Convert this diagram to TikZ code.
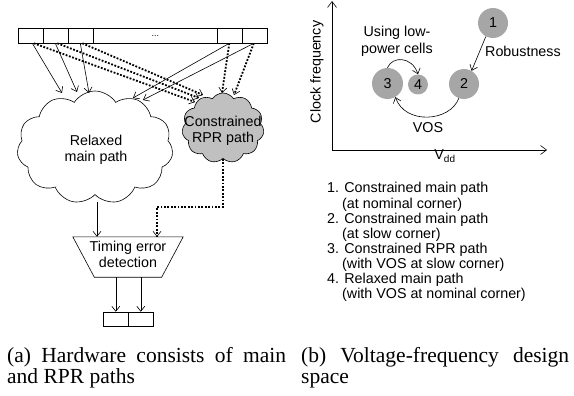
\documentclass[tikz,border=0pt]{standalone}
\usepackage{fontspec}
\setmainfont{Liberation Serif}
\setsansfont{Liberation Sans}
\usetikzlibrary{shapes.symbols,shapes.geometric,arrows.meta}
\definecolor{circgray}{HTML}{A6A6A6}
\definecolor{cloudgray}{HTML}{C0C0C0}
\begin{document}
\begin{tikzpicture}[x=1pt,y=-1pt,
  lbl/.style={font=\sffamily\fontsize{14.3}{16.5}\selectfont, inner sep=0pt, align=center},
  cell/.style={draw, line width=0.6pt, minimum height=15pt, inner sep=0pt, anchor=west},
  arr/.style={line width=0.6pt, -{Straight Barb[length=5pt,width=8pt]}},
  dotarr/.style={line width=1.8pt, dash pattern=on 1.8pt off 1.6pt,
    -{Straight Barb[length=5pt,width=8pt,line width=0.6pt]}},
  axarr/.style={line width=0.6pt, -{Straight Barb[length=6pt,width=9pt]}},
  circ/.style={circle, fill=circgray, inner sep=0pt, font=\sffamily\fontsize{14.3}{16.5}\selectfont},
  capt/.style={font=\rmfamily\fontsize{21.5}{21.5}\selectfont, inner sep=0pt, anchor=base west},
  leg/.style={font=\sffamily\fontsize{14.3}{16.5}\selectfont, inner sep=0pt, anchor=base west}
]
\useasboundingbox (0,0) rectangle (574,396);

% ---------- (a) hardware ----------
\node[cell, minimum width=25pt] (c1) at (18,35.5) {};
\node[cell, minimum width=25pt] (c2) at (43,35.5) {};
\node[cell, minimum width=25pt] (c3) at (68,35.5) {};
\node[cell, minimum width=124pt, font=\sffamily\small] (c4) at (93,35.5) {\raisebox{-2.5pt}{...}};
\node[cell, minimum width=25pt] (c5) at (217,35.5) {};
\node[cell, minimum width=25pt] (c6) at (242,35.5) {};

\node[cloud, draw, line width=0.6pt, cloud puffs=11, cloud puff arc=115, cloud ignores aspect,
      minimum width=156pt, minimum height=113pt, inner sep=0pt] (relaxed) at (95,147.5) {};
\node[lbl] (relaxedtxt) at (96,150) {Relaxed\\main path};

\node[cloud, draw, fill=cloudgray, line width=0.6pt, cloud puffs=11, cloud puff arc=115, cloud ignores aspect,
      minimum width=82pt, minimum height=70pt, inner sep=0pt] (rpr) at (223,128) {};
\node[lbl] (rprtxt) at (223,131) {Constrained\\RPR path};

\coordinate (r1) at (62,93);
\coordinate (r2) at (77,92);
\coordinate (r3) at (89,93);
\coordinate (r5) at (133,98);
\coordinate (r6) at (143,100);
\coordinate (g1) at (195,102);
\coordinate (g2) at (199,98);
\coordinate (g3) at (203,95);
\coordinate (g5) at (222,93);
\coordinate (g6) at (234,95);

\draw[dotarr] ([xshift=3pt]c1.south) -- (g1);
\draw[dotarr] ([xshift=1.5pt]c2.south) -- (g2);
\draw[dotarr] ([xshift=1.5pt]c3.south) -- (g3);
\draw[dotarr] ([xshift=-0.5pt]c5.south) -- (g5);
\draw[dotarr] ([xshift=-1pt]c6.south) -- (g6);
\draw[arr] ([xshift=1.5pt]c1.south) -- (r1);
\draw[arr] ([xshift=-0.5pt]c2.south) -- (r2);
\draw[arr] ([xshift=-0.5pt]c3.south) -- (r3);
\draw[arr] ([xshift=-0.5pt]c5.south) -- (r5);
\draw[arr] ([xshift=-1pt]c6.south) -- (r6);

\node[minimum width=110pt, minimum height=40pt, inner sep=0pt] (ted) at (128,257) {};
\draw[line width=0.6pt] (ted.north west) -- (ted.north east)
   -- ([xshift=-21.5pt]ted.south east) -- ([xshift=21.5pt]ted.south west) -- cycle;
\node[lbl] (tedtxt) at (128,254.5) {Timing error\\detection};

\coordinate (rbot) at (97,202);
\draw[arr] (rbot) -- (rbot |- ted.north);
\coordinate (bend) at (157,207);
\draw[dotarr] (rpr.south) |- (bend) -- (bend |- ted.north);

\node[cell, minimum width=25pt, minimum height=14pt] (o1) at (103,319) {};
\node[cell, minimum width=25pt, minimum height=14pt] (o2) at (128,319) {};
\draw[arr] (o1.north |- ted.south) -- (o1.north);
\draw[arr] (o2.north |- ted.south) -- (o2.north);

\node[capt] (capa1) at (7,362) {\makebox[279pt][s]{(a) Hardware consists of main}};
\node[capt] (capa2) at (7,383.5) {and RPR paths};

% ---------- (b) design space ----------
\coordinate (O) at (332,150);
\coordinate (ytop) at (332,1);
\coordinate (xend) at (547,150);
\draw[axarr] (O) -- (ytop);
\draw[axarr] (O) -- (xend);
\node[lbl, rotate=90] (ylab) at (317,72) {Clock frequency};
\node[lbl, anchor=base] (xlab) at (445,160) {V\textsubscript{dd}};

\node[circ, minimum size=30pt] (k1) at (493,23) {1};
\node[circ, minimum size=30pt] (k2) at (464,84) {2};
\node[circ, minimum size=31pt] (k3) at (387.5,83.5) {3};
\node[circ, minimum size=20pt] (k4) at (418,84.5) {4};

\draw[arr] (k1.242) -- (k2.60);
\node[lbl, anchor=base west] (rob) at (485,57) {Robustness};
\draw[arr] (k3.north) .. controls (392,56) and (412,56) .. (k4.north);
\node[lbl] (lowp) at (397,41.3) {Using low-\\power cells};
\draw[arr] (k2.250) .. controls (450,122) and (405,125) .. (k3.300);
\node[lbl, anchor=base] (vos) at (428,132) {VOS};

\node[leg] (l1) at (327,193) {1. Constrained main path};
\node[leg] (l1b) at (342,208) {(at nominal corner)};
\node[leg] (l2) at (327,223) {2. Constrained main path};
\node[leg] (l2b) at (342,238) {(at slow corner)};
\node[leg] (l3) at (327,253) {3. Constrained RPR path};
\node[leg] (l3b) at (342,268) {(with VOS at slow corner)};
\node[leg] (l4) at (327,283) {4. Relaxed main path};
\node[leg] (l4b) at (342,298) {(with VOS at nominal corner)};

\node[capt] (capb1) at (301,362) {\makebox[268pt][s]{(b) Voltage-frequency design}};
\node[capt] (capb2) at (301,383.5) {space};
\end{tikzpicture}
\end{document}
